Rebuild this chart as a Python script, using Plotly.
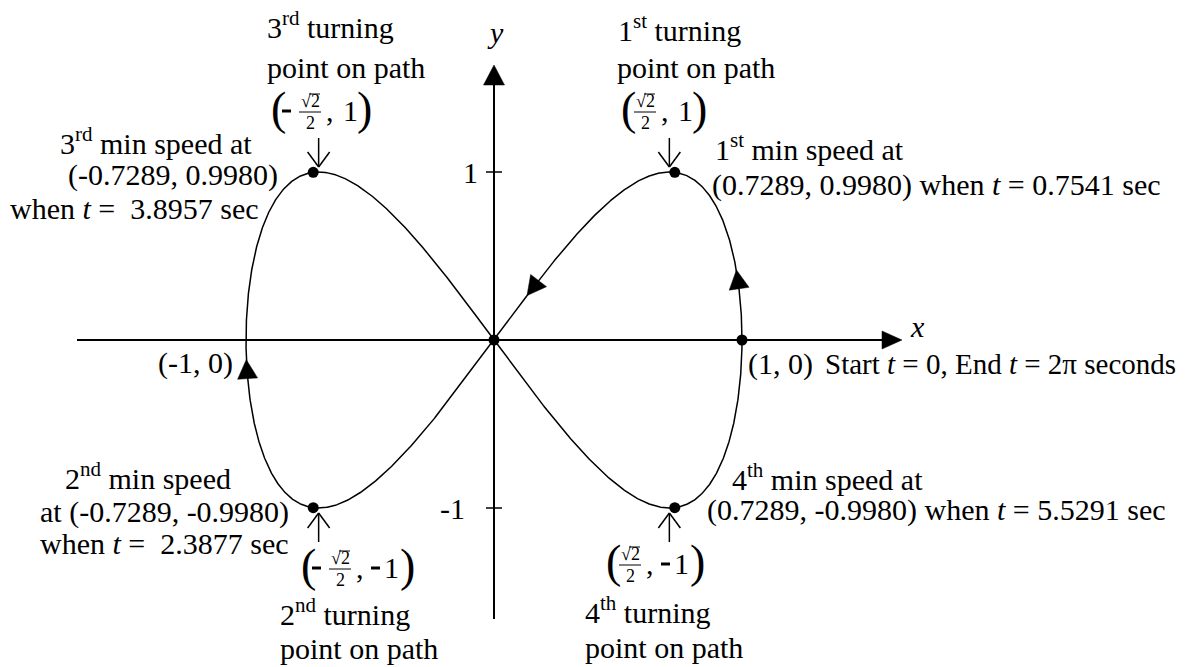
import numpy as np
import plotly.graph_objects as go

# ---------------------------------------------------------------- data
# Path of the particle: x = cos t, y = sin 2t, 0 <= t <= 2*pi seconds
t_path = np.linspace(0.0, 2.0 * np.pi, 1441)
path_x = np.cos(t_path)
path_y = np.sin(2.0 * t_path)

# start/end point and the crossing point at the origin
point_x = [1.0, 0.0]
point_y = [0.0, 0.0]

# minimum-speed points (1st, 2nd, 3rd, 4th)
min_speed_t = [0.7541, 2.3877, 3.8957, 5.5291]
min_speed_x = [0.7289, -0.7289, -0.7289, 0.7289]
min_speed_y = [0.9980, -0.9980, 0.9980, -0.9980]

# turning points on the path (1st, 2nd, 3rd, 4th)
turn_x = [np.sqrt(2) / 2, -np.sqrt(2) / 2, -np.sqrt(2) / 2, np.sqrt(2) / 2]
turn_y = [1.0, -1.0, 1.0, -1.0]

# parameter values where the direction of travel is marked
direction_t = [0.18, 1.41, 3.05]

tick_vals = [1, -1]
tick_text = ["1", "-1"]

# ---------------------------------------------------------------- geometry
W, H = 1186, 667
OX, OY = 494, 340          # pixel position of the origin
SX, SY = 248, 168          # pixels per unit on x and y

def xd(px):
    return (px - OX) / SX

def yd(py):
    return (OY - py) / SY

def xp(x):
    return OX + SX * x

def yp(y):
    return OY - SY * y

FONT = "Liberation Serif"
FS = 30
INK = "black"

annotations = []
shapes = []
traces = []


def it(s, size=FS):
    return f'<i style="font-size:{size}px">{s}</i>'


def sup(s, size=FS):
    return f'<sup style="font-size:{round(size * 0.7)}px">{s}</sup>'


def text(s, px, py, size=FS, anchor="left", **extra):
    annotations.append(dict(
        x=xd(px), y=yd(py), xref="x", yref="y", text=s, showarrow=False,
        xanchor=anchor, yanchor="middle",
        font=dict(family=FONT, size=size, color=INK), **extra,
    ))


def seg(p0, p1, width=1.5):
    shapes.append(dict(
        type="line", xref="x", yref="y",
        x0=xd(p0[0]), y0=yd(p0[1]), x1=xd(p1[0]), y1=yd(p1[1]),
        line=dict(color=INK, width=width),
    ))


def solid_triangle(tip, direction, length, width):
    ux, uy = direction
    n = np.hypot(ux, uy)
    ux, uy = ux / n, uy / n
    nx, ny = -uy, ux
    bx, by = tip[0] - ux * length, tip[1] - uy * length
    pts = [tip,
           (bx + nx * width / 2, by + ny * width / 2),
           (bx - nx * width / 2, by - ny * width / 2),
           tip]
    traces.append(go.Scatter(
        x=[xd(p[0]) for p in pts], y=[yd(p[1]) for p in pts],
        mode="lines", fill="toself", fillcolor=INK,
        line=dict(color=INK, width=0.5), hoverinfo="skip",
    ))


def coord_label(left, cy, neg_x, neg_y):
    """(±√2/2, ±1) written with a stacked fraction and tall brackets."""
    text("(", left + 6, cy - 2, size=46, anchor="center")
    fx = left + (38 if neg_x else 23)
    if neg_x:
        seg((left + 10, cy + 1), (left + 19, cy + 1), width=3)
    text("√2", fx, cy - 9, size=18, anchor="center")
    seg((fx - 1, cy - 16), (fx + 10, cy - 16), width=1)
    seg((fx - 11, cy + 2), (fx + 11, cy + 2), width=1)
    text("2", fx, cy + 13, size=18, anchor="center")
    text(",", fx + 20, cy, anchor="center")
    if neg_y:
        seg((fx + 31, cy + 1), (fx + 40, cy + 1), width=3)
        text("1", fx + 51, cy, anchor="center")
        close = fx + 67
    else:
        text("1", fx + 40, cy, anchor="center")
        close = fx + 54
    text(")", close, cy - 2, size=46, anchor="center")


# ---------------------------------------------------------------- axes
seg((77, OY), (886, OY), width=2)
seg((OX, 619), (OX, 82), width=2)
solid_triangle((902, OY), (1, 0), 20, 18)
solid_triangle((OX, 65), (0, -1), 20, 21)
for v, lab in zip(tick_vals, tick_text):
    seg((486, yp(v)), (502, yp(v)), width=1.5)
    text(lab, 470 if v > 0 else 452, yp(v), anchor="center")
text(it("y"), 495, 32, anchor="center")
text(it("x"), 917, 326, anchor="center", height=22)

# ---------------------------------------------------------------- path
traces.insert(0, go.Scatter(
    x=path_x, y=path_y, mode="lines",
    line=dict(color=INK, width=1.5), hoverinfo="skip",
))

# direction of travel
for t in direction_t:
    cx, cy = xp(np.cos(t)), yp(np.sin(2 * t))
    d = (-SX * np.sin(t), -SY * 2 * np.cos(2 * t))
    n = np.hypot(*d)
    tip = (cx + d[0] / n * 11, cy + d[1] / n * 11)
    solid_triangle(tip, d, 19, 20)

# marked points
traces.append(go.Scatter(
    x=point_x + min_speed_x, y=point_y + min_speed_y, mode="markers",
    marker=dict(color=INK, size=11, line=dict(width=0)), hoverinfo="skip",
))

# open arrows pointing at the turning points
for tx, ty in zip(turn_x, turn_y):
    px, py = xp(tx), yp(ty)
    s = -1 if ty > 0 else 1
    tip = (px, py + s * 5)
    seg((px, py + s * 34), tip)
    seg(tip, (px - 11, tip[1] + s * 15))
    seg(tip, (px + 11, tip[1] + s * 15))

# ---------------------------------------------------------------- labels
# 1st turning point / 1st minimum speed
text("1" + sup("st") + " turning", 616, 28)
text("point on path", 615, 67)
coord_label(622, 110, False, False)
text("1" + sup("st") + " min speed at", 713, 147)
text("(0.7289, 0.9980) when " + it("t") + " = 0.7541 sec", 710, 185)

# 3rd turning point / 3rd minimum speed
text("3" + sup("rd") + " turning", 265, 25)
text("point on path", 265, 67)
coord_label(272, 110, True, False)
text("3" + sup("rd") + " min speed at", 58, 141)
text("(-0.7289, 0.9980)", 66, 175)
text("when " + it("t") + " =\u00a0 3.8957 sec", 8, 208)

# axis crossings
text("(-1, 0)", 156, 363)
text("(1, 0)", 746, 364)
text("Start " + it("t", 29) + " = 0, End " + it("t", 29) + " = 2π seconds",
     823, 364, size=29)

# 2nd minimum speed / 2nd turning point
text("2" + sup("nd") + " min speed", 63, 476)
text("at (-0.7289, -0.9980)", 38, 512)
text("when " + it("t") + " =\u00a0 2.3877 sec", 38, 543)
coord_label(302, 567, True, True)
text("2" + sup("nd") + " turning", 278, 612)
text("point on path", 278, 648)

# 4th minimum speed / 4th turning point
text("4" + sup("th") + " min speed at", 730, 477)
text("(0.7289, -0.9980) when " + it("t") + " = 5.5291 sec", 705, 510)
coord_label(607, 563, False, True)
text("4" + sup("th") + " turning", 583, 610)
text("point on path", 583, 647)

# ---------------------------------------------------------------- figure
fig = go.Figure(traces)
fig.update_layout(
    width=W, height=H, autosize=False,
    margin=dict(l=0, r=0, t=0, b=0),
    paper_bgcolor="white", plot_bgcolor="white",
    showlegend=False,
    xaxis=dict(range=[xd(0), xd(W)], visible=False, fixedrange=True),
    yaxis=dict(range=[yd(H), yd(0)], visible=False, fixedrange=True),
    annotations=annotations,
    shapes=shapes,
)
fig.write_html("out.html", post_script="document.body.style.margin='0';")
